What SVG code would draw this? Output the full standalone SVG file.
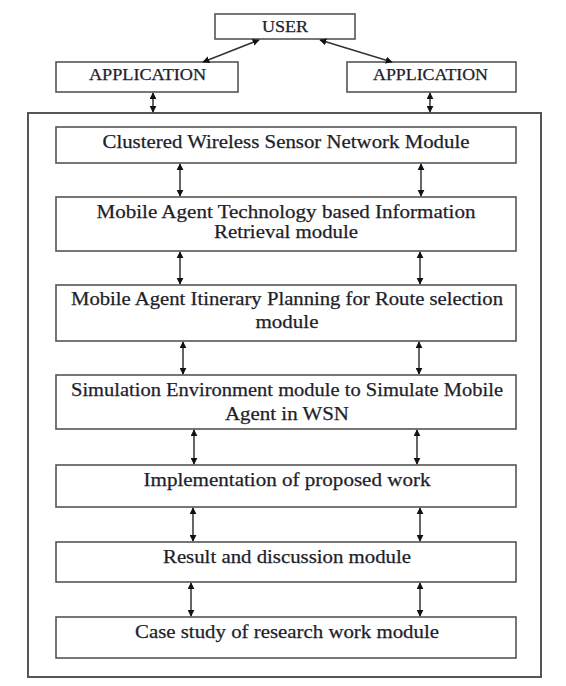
<svg xmlns="http://www.w3.org/2000/svg" width="566" height="686" viewBox="0 0 566 686">
  <style>
    .box { fill: #ffffff; stroke: #555555; stroke-width: 1.6; }
    .frame { fill: none; stroke: #555555; stroke-width: 2; }
    .lbl { font-family: "Liberation Serif", "Times New Roman", serif; font-size: 18.5px; fill: #1e1e2a; stroke: #1e1e2a; stroke-width: 0.25; text-anchor: middle; }
    .cap { font-size: 16px; }
    .link { stroke: #333333; stroke-width: 1.5; fill: none; marker-start: url(#head); marker-end: url(#head); }
  </style>
  <defs>
    <marker id="head" viewBox="0 0 10 10" refX="9" refY="5" markerWidth="7" markerHeight="7" markerUnits="userSpaceOnUse" orient="auto-start-reverse">
      <path d="M0,0 L10,5 L0,10 z" fill="#111111"/>
    </marker>
  </defs>

  <rect width="566" height="686" fill="#ffffff"/>

  <!-- outer container of the module stack -->
  <rect id="frame" class="frame" x="28" y="113" width="513" height="564"/>

  <g id="user">
    <rect class="box" x="215" y="14" width="140" height="25"/>
    <text class="lbl cap" x="285" y="32" textLength="46" lengthAdjust="spacingAndGlyphs">USER</text>
  </g>
  <g id="app-left">
    <rect class="box" x="56" y="62" width="182" height="30"/>
    <text class="lbl cap" x="147.5" y="80" textLength="117" lengthAdjust="spacingAndGlyphs">APPLICATION</text>
  </g>
  <g id="app-right">
    <rect class="box" x="347" y="62" width="169" height="30"/>
    <text class="lbl cap" x="430.5" y="80" textLength="115" lengthAdjust="spacingAndGlyphs">APPLICATION</text>
  </g>

  <g id="m1">
    <rect class="box" x="56" y="127" width="460" height="36"/>
    <text class="lbl" x="286" y="148" textLength="367" lengthAdjust="spacingAndGlyphs">Clustered Wireless Sensor Network Module</text>
  </g>
  <g id="m2">
    <rect class="box" x="56" y="197" width="460" height="54"/>
    <text class="lbl" x="286" y="218" textLength="379" lengthAdjust="spacingAndGlyphs">Mobile Agent Technology based Information</text>
    <text class="lbl" x="286" y="238" textLength="144" lengthAdjust="spacingAndGlyphs">Retrieval module</text>
  </g>
  <g id="m3">
    <rect class="box" x="56" y="285" width="460" height="56"/>
    <text class="lbl" x="287" y="305" textLength="432" lengthAdjust="spacingAndGlyphs">Mobile Agent Itinerary Planning for Route selection</text>
    <text class="lbl" x="287" y="328" textLength="63" lengthAdjust="spacingAndGlyphs">module</text>
  </g>
  <g id="m4">
    <rect class="box" x="56" y="375" width="460" height="54"/>
    <text class="lbl" x="287" y="396" textLength="432" lengthAdjust="spacingAndGlyphs">Simulation Environment module to Simulate Mobile</text>
    <text class="lbl" x="287" y="420" textLength="124" lengthAdjust="spacingAndGlyphs">Agent in WSN</text>
  </g>
  <g id="m5">
    <rect class="box" x="56" y="465" width="460" height="42"/>
    <text class="lbl" x="287" y="486" textLength="287" lengthAdjust="spacingAndGlyphs">Implementation of proposed work</text>
  </g>
  <g id="m6">
    <rect class="box" x="56" y="542" width="460" height="40"/>
    <text class="lbl" x="287" y="563" textLength="248" lengthAdjust="spacingAndGlyphs">Result and discussion module</text>
  </g>
  <g id="m7">
    <rect class="box" x="56" y="617" width="460" height="41"/>
    <text class="lbl" x="287" y="638" textLength="304" lengthAdjust="spacingAndGlyphs">Case study of research work module</text>
  </g>

  <g id="connectors">
    <line class="link" x1="259" y1="40" x2="203" y2="62"/>
    <line class="link" x1="320" y1="40" x2="392" y2="62"/>
    <line class="link" x1="153" y1="93" x2="153" y2="112"/>
    <line class="link" x1="430" y1="93" x2="430" y2="112"/>

    <line class="link" x1="180" y1="164" x2="180" y2="196"/>
    <line class="link" x1="421" y1="164" x2="421" y2="196"/>
    <line class="link" x1="180" y1="252" x2="180" y2="284"/>
    <line class="link" x1="420" y1="252" x2="420" y2="284"/>
    <line class="link" x1="183" y1="342" x2="183" y2="374"/>
    <line class="link" x1="419" y1="342" x2="419" y2="374"/>
    <line class="link" x1="194" y1="430" x2="194" y2="464"/>
    <line class="link" x1="417" y1="430" x2="417" y2="464"/>
    <line class="link" x1="193" y1="508" x2="193" y2="541"/>
    <line class="link" x1="420" y1="508" x2="420" y2="541"/>
    <line class="link" x1="191" y1="583" x2="191" y2="616"/>
    <line class="link" x1="420" y1="583" x2="420" y2="616"/>
  </g>
</svg>
